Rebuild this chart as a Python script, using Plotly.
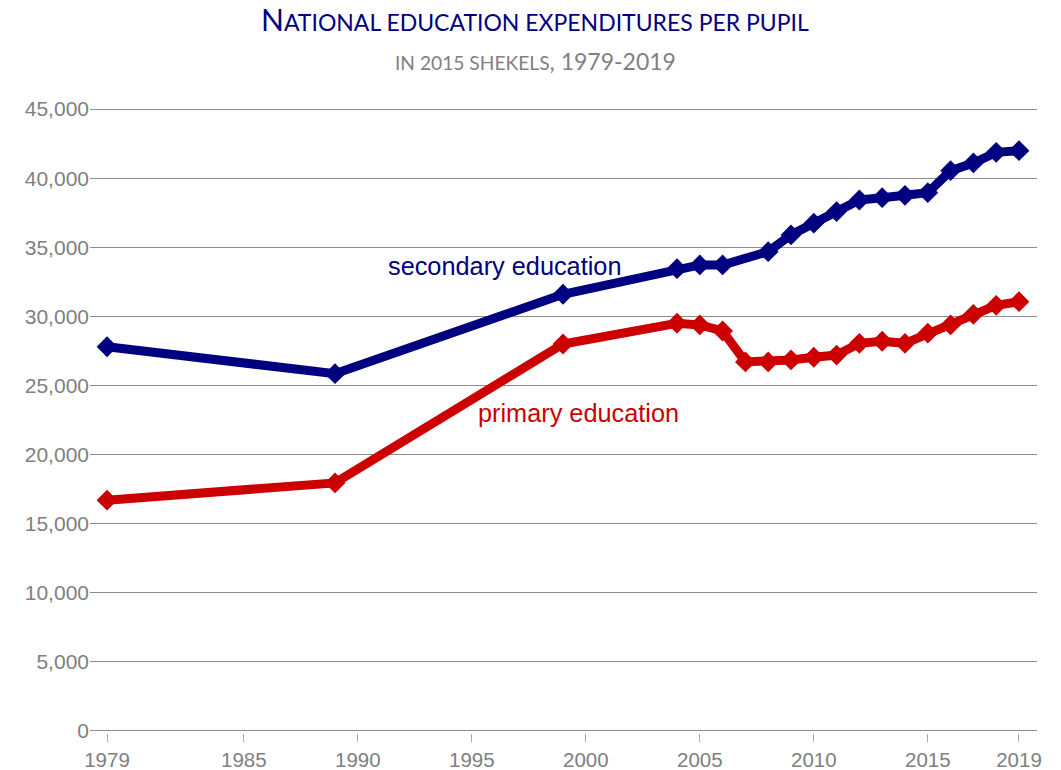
import plotly.graph_objects as go

# Data (2015 shekels per pupil)
secondary_years = [1979, 1989, 1999, 2004, 2005, 2006, 2008, 2009, 2010, 2011,
                   2012, 2013, 2014, 2015, 2016, 2017, 2018, 2019]
secondary_values = [27800, 25850, 31600, 33450, 33720, 33720, 34680, 35890, 36740, 37580,
                    38420, 38590, 38760, 38950, 40540, 41100, 41870, 41990]

primary_years = [1979, 1989, 1999, 2004, 2005, 2006, 2007, 2008, 2009, 2010,
                 2011, 2012, 2013, 2014, 2015, 2016, 2017, 2018, 2019]
primary_values = [16700, 17950, 28000, 29500, 29380, 28940, 26700, 26700, 26850, 27040,
                  27200, 28050, 28200, 28050, 28780, 29380, 30150, 30800, 31060]

x_ticks = [1979, 1985, 1990, 1995, 2000, 2005, 2010, 2015, 2019]
y_ticks = [0, 5000, 10000, 15000, 20000, 25000, 30000, 35000, 40000, 45000]

NAVY = "#000080"
RED = "#CC0000"
GRAY = "#808080"

fig = go.Figure()
fig.add_trace(go.Scatter(
    x=secondary_years, y=secondary_values, mode="lines+markers",
    line=dict(color=NAVY, width=9),
    marker=dict(symbol="diamond", size=16, color=NAVY),
    name="secondary education", showlegend=False, cliponaxis=False))
fig.add_trace(go.Scatter(
    x=primary_years, y=primary_values, mode="lines+markers",
    line=dict(color=RED, width=9),
    marker=dict(symbol="diamond", size=16, color=RED),
    name="primary education", showlegend=False, cliponaxis=False))

fig.add_annotation(x=1996.45, y=33650, text="secondary education", showarrow=False,
                   font=dict(family="Liberation Sans, Arial", size=25.3, color=NAVY))
fig.add_annotation(x=1999.7, y=23000, text="primary education", showarrow=False,
                   font=dict(family="Liberation Sans, Arial", size=25.3, color=RED))

title_font = "Lato, Open Sans, sans-serif"
fig.add_annotation(xref="paper", yref="paper", x=0.47, y=1, yshift=88, yanchor="middle",
                   showarrow=False,
                   text="<span style='font-size:30px'>N</span>ATIONAL EDUCATION EXPENDITURES PER PUPIL",
                   font=dict(family=title_font, size=23, color=NAVY))
fig.add_annotation(xref="paper", yref="paper", x=0.47, y=1, yshift=46, yanchor="middle",
                   showarrow=False,
                   text="IN 2015 SHEKELS<span style='font-size:23px'>, 1979-2019</span>",
                   font=dict(family=title_font, size=19.2, color=GRAY))

fig.update_layout(
    width=1061, height=770,
    margin=dict(l=90, r=24, t=107, b=37, autoexpand=False),
    plot_bgcolor="white", paper_bgcolor="white",
    font=dict(family="Liberation Sans, Arial", color=GRAY),
    xaxis=dict(range=[1978.254, 2019.79], tickvals=x_ticks, ticktext=[str(v) for v in x_ticks],
               showgrid=False, zeroline=False, showline=False, automargin=False,
               ticks="outside", ticklen=8, tickcolor="#aaaaaa", tickwidth=1,
               tickfont=dict(size=20.5, color=GRAY)),
    yaxis=dict(range=[-150, 45150], tickvals=y_ticks,
               ticktext=[f"{v:,}" for v in y_ticks], automargin=False,
               showgrid=True, gridcolor="#8c8c8c", gridwidth=1,
               zeroline=False, showline=False, ticks="",
               tickfont=dict(size=21, color=GRAY)),
)

fig.write_html("out.html", config={"displayModeBar": False},
               post_script="document.body.style.margin='0';document.body.style.padding='0';")
